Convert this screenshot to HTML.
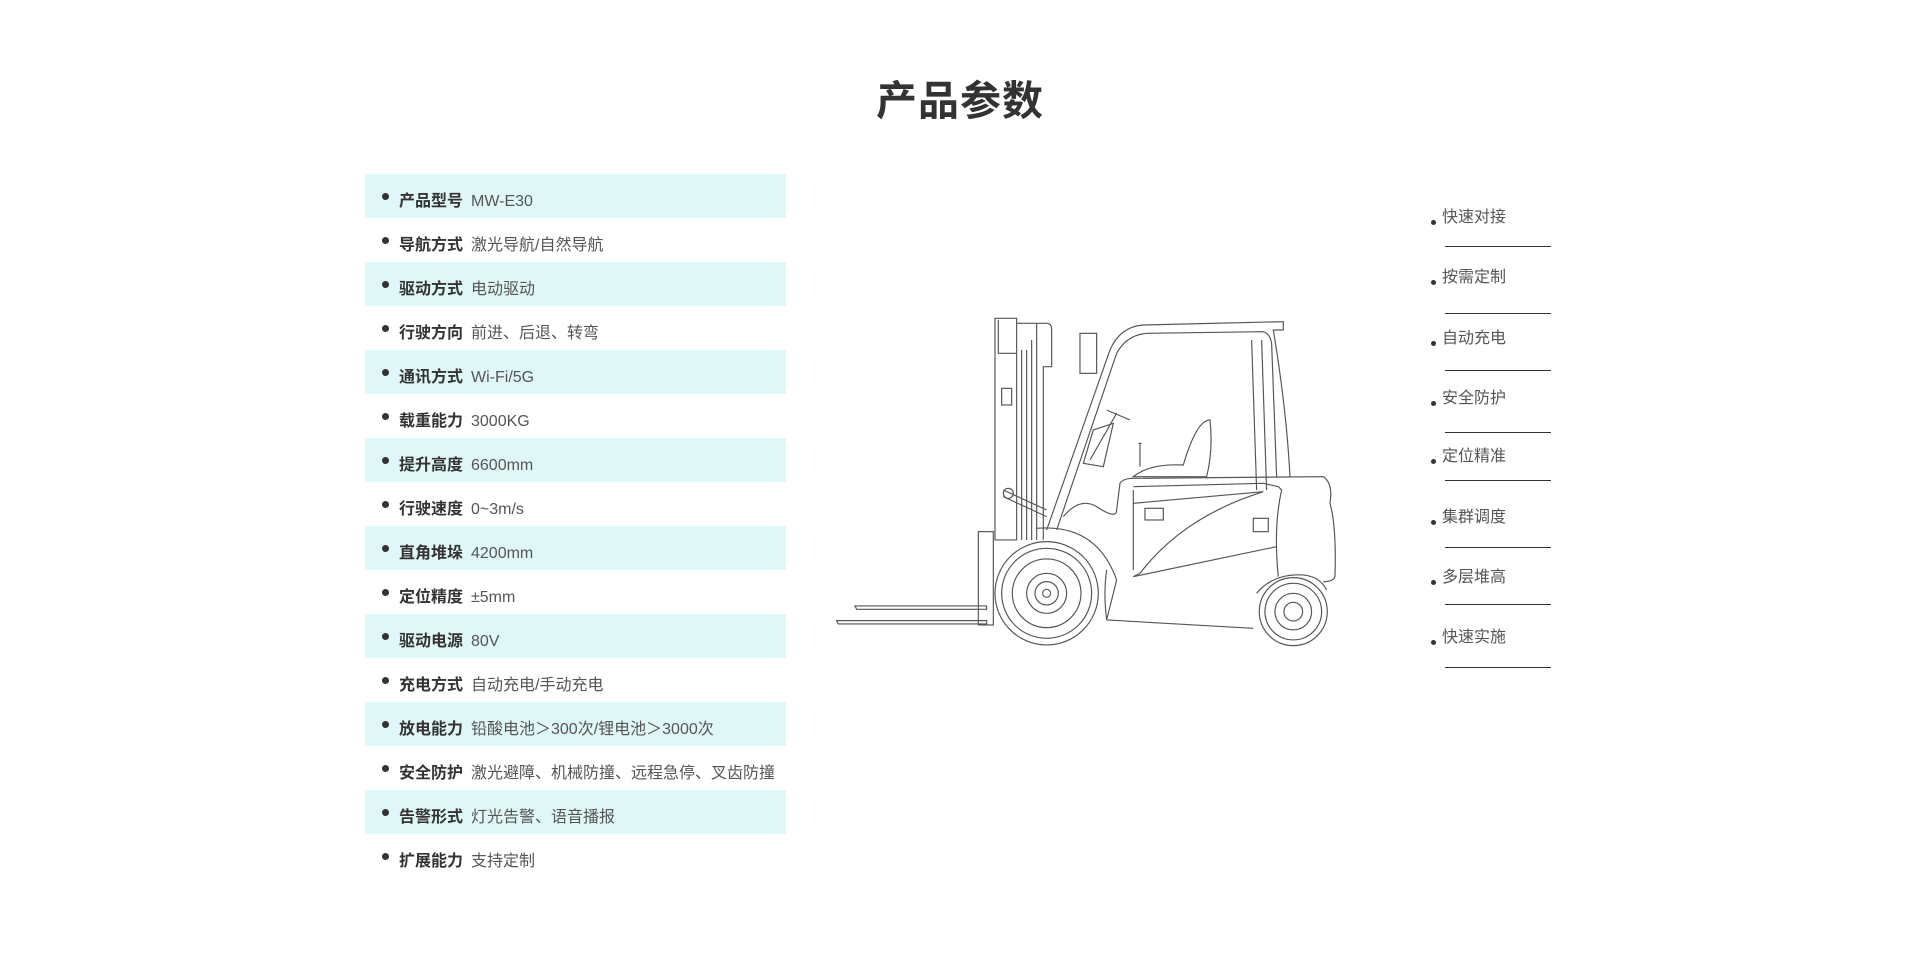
<!DOCTYPE html>
<html><head><meta charset="utf-8"><style>
body{margin:0;background:#fff;width:1920px;height:965px;overflow:hidden;position:relative;font-family:"Liberation Sans","Noto Sans CJK SC",sans-serif;}
h1{position:absolute;left:0;width:1920px;top:74px;margin:0;text-align:center;font-size:41px;font-weight:700;color:#333;letter-spacing:1px;line-height:54px;}
.tbl{position:absolute;left:365px;top:174px;width:421px;}
.row{height:44px;position:relative;font-size:16px;line-height:44px;color:#555;}
.row:nth-child(odd){background:#e0f7f7;}
.row:before{content:"";position:absolute;left:17px;top:19px;width:7px;height:7px;border-radius:50%;background:#333;}
.row b{position:absolute;left:34px;top:6px;color:#333;font-weight:700;}
.row span{position:absolute;left:106px;top:6px;}
.rl{position:absolute;left:1442px;font-size:16px;color:#555;line-height:20px;}
.rl:before{content:"";position:absolute;left:-11px;top:12px;width:5px;height:5px;border-radius:50%;background:#333;}
.ln{position:absolute;left:1445px;width:106px;height:1px;background:#333;}
</style></head><body>
<h1>产品参数</h1>
<div class="tbl">
<div class="row"><b>产品型号</b><span>MW-E30</span></div>
<div class="row"><b>导航方式</b><span>激光导航/自然导航</span></div>
<div class="row"><b>驱动方式</b><span>电动驱动</span></div>
<div class="row"><b>行驶方向</b><span>前进、后退、转弯</span></div>
<div class="row"><b>通讯方式</b><span>Wi-Fi/5G</span></div>
<div class="row"><b>载重能力</b><span>3000KG</span></div>
<div class="row"><b>提升高度</b><span>6600mm</span></div>
<div class="row"><b>行驶速度</b><span>0~3m/s</span></div>
<div class="row"><b>直角堆垛</b><span>4200mm</span></div>
<div class="row"><b>定位精度</b><span>±5mm</span></div>
<div class="row"><b>驱动电源</b><span>80V</span></div>
<div class="row"><b>充电方式</b><span>自动充电/手动充电</span></div>
<div class="row"><b>放电能力</b><span>铅酸电池＞300次/锂电池＞3000次</span></div>
<div class="row"><b>安全防护</b><span>激光避障、机械防撞、远程急停、叉齿防撞</span></div>
<div class="row"><b>告警形式</b><span>灯光告警、语音播报</span></div>
<div class="row"><b>扩展能力</b><span>支持定制</span></div>
</div>

<svg style="position:absolute;left:0;top:0" width="1920" height="965">
<g transform="translate(830,310) scale(0.3333)" fill="none" stroke="#555" stroke-width="3.5">
<path d="M75 888 H470 V898 H80 Z"/>
<path d="M20 932 H470 V942 H25 Z"/>
<rect x="445" y="665" width="45" height="280"/>
<path d="M495 25 H560 V690 H495 Z"/>
<path d="M505 30 V130 H560"/>
<rect x="515" y="235" width="30" height="50"/>
<path d="M560 40 H650 Q665 40 665 60 V170 H640 V690"/>
<path d="M575 120 V690 M590 120 V690 M605 90 V690 M620 40 V690"/>
<path d="M520 540 L650 600 M520 560 L650 620"/>
<circle cx="535" cy="550" r="15"/>
<path d="M650 660 L840 120 Q870 50 940 45 L1360 35 V60 L1330 60 Q1370 300 1380 500"/>
<path d="M680 660 L860 130 Q890 75 950 70 L1300 65 Q1320 70 1325 100 L1340 500"/>
<path d="M1265 90 L1280 540 M1295 90 L1310 540"/>
<rect x="750" y="70" width="50" height="120"/>
<path d="M830 300 L900 330 M860 310 L780 450"/>
<path d="M790 360 L850 340 L820 470 L760 460 Z"/>
<path d="M910 500 Q960 460 1060 465 Q1100 330 1140 330 Q1150 420 1130 500 Z"/>
<path d="M930 470 V400 M925 400 h10"/>
<path d="M700 620 Q750 560 800 590 Q860 630 860 600 L870 520 Q880 505 910 505 L1480 500 Q1510 520 1500 580 Q1520 650 1515 800 Q1510 815 1480 815"/>
<path d="M910 530 L1300 520 L1345 530 L1355 540 Q1330 650 1345 800"/>
<path d="M910 580 L1300 545 Q1060 620 930 790 L910 800"/>
<path d="M910 800 L1340 710"/>
<path d="M910 540 V780"/>
<path d="M830 930 L1270 955 M830 780 Q820 850 830 930"/>
<rect x="945" y="595" width="55" height="35"/>
<rect x="1270" y="625" width="45" height="40"/>
<path d="M620 655 Q800 640 860 810 L830 930"/>
<circle cx="650" cy="850" r="155"/>
<circle cx="650" cy="850" r="135"/>
<circle cx="650" cy="850" r="103"/>
<circle cx="650" cy="850" r="60"/>
<circle cx="650" cy="850" r="35"/>
<circle cx="650" cy="850" r="12"/>
<circle cx="1390" cy="905" r="102"/>
<circle cx="1390" cy="905" r="85"/>
<circle cx="1390" cy="905" r="55"/>
<circle cx="1390" cy="905" r="28"/>
<path d="M1280 850 Q1330 790 1420 795 Q1470 800 1490 840"/>
</g>
</svg>

<div class="rl" style="top:208px">快速对接</div><div class="ln" style="top:246px"></div>
<div class="rl" style="top:268px">按需定制</div><div class="ln" style="top:313px"></div>
<div class="rl" style="top:329px">自动充电</div><div class="ln" style="top:370px"></div>
<div class="rl" style="top:389px">安全防护</div><div class="ln" style="top:432px"></div>
<div class="rl" style="top:447px">定位精准</div><div class="ln" style="top:480px"></div>
<div class="rl" style="top:508px">集群调度</div><div class="ln" style="top:547px"></div>
<div class="rl" style="top:568px">多层堆高</div><div class="ln" style="top:604px"></div>
<div class="rl" style="top:628px">快速实施</div><div class="ln" style="top:667px"></div>
</body></html>
